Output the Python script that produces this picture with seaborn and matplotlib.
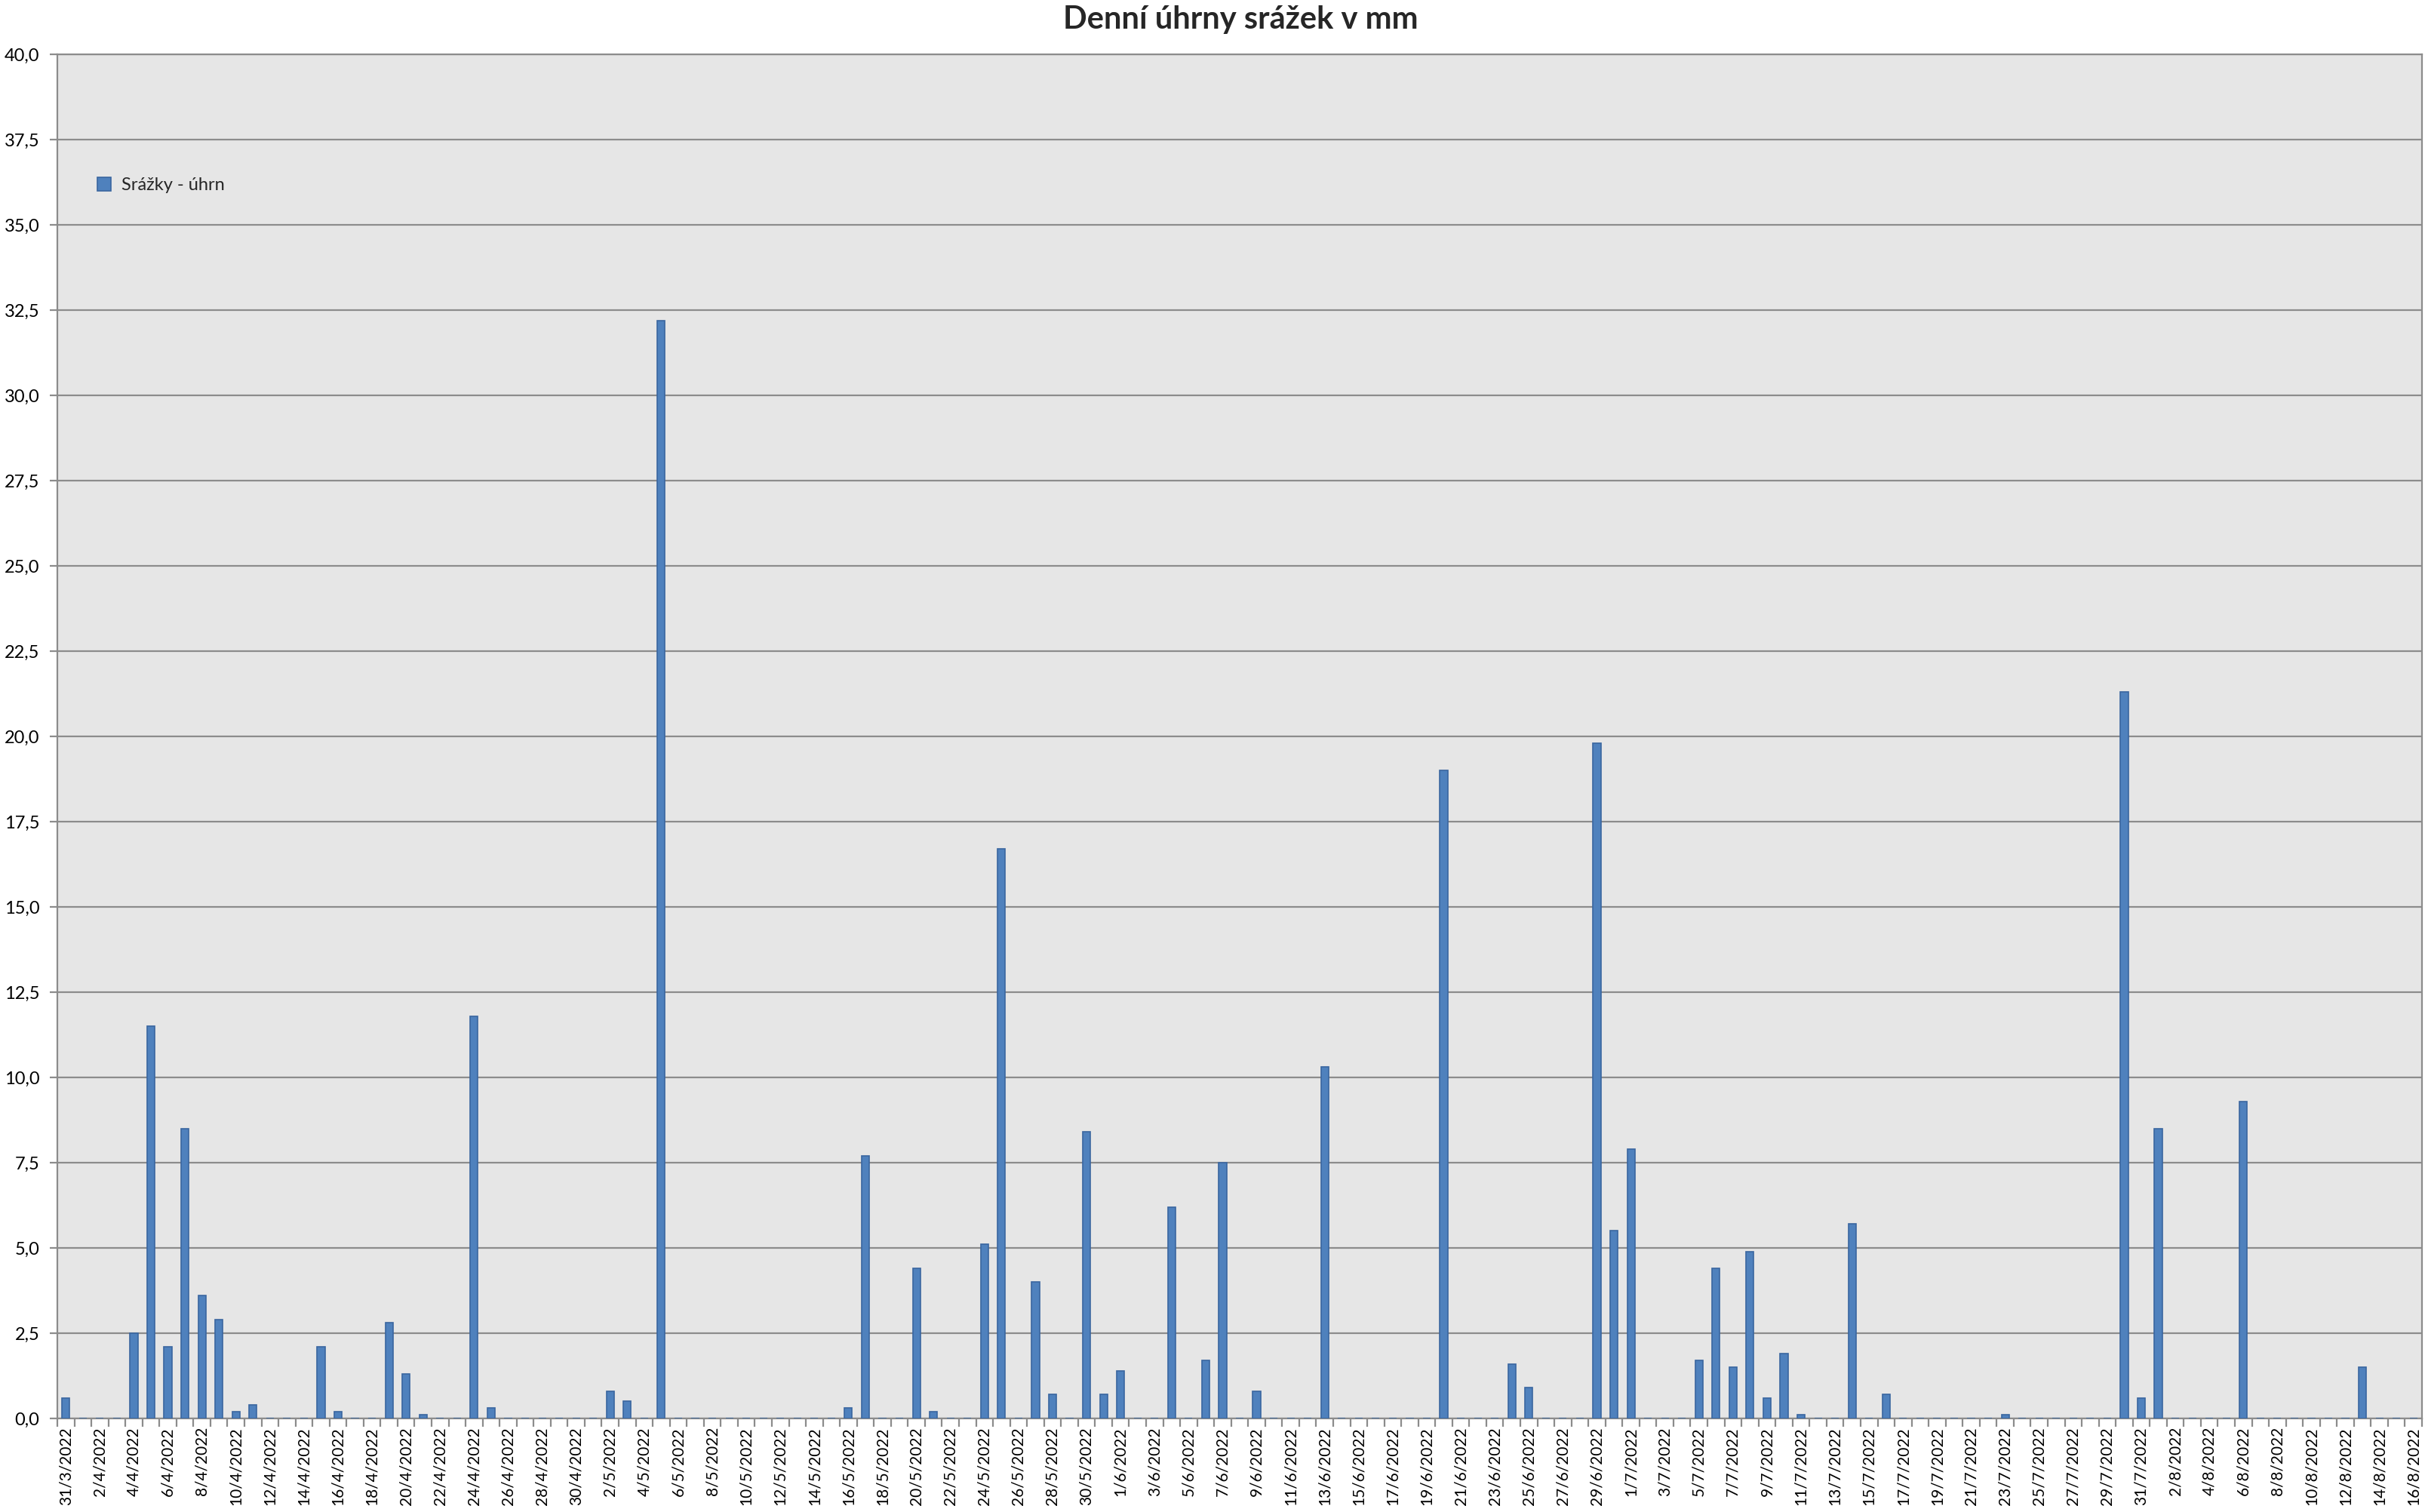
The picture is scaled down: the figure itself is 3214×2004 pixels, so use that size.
import numpy as np
import pandas as pd
import matplotlib
matplotlib.use("Agg")
import matplotlib.pyplot as plt
from matplotlib.patches import Patch
from matplotlib.ticker import FuncFormatter, FixedLocator
import seaborn as sns

# ---- data ----
dates = pd.date_range("2022-03-31", "2022-08-16", freq="D")
date_labels = [f"{d.day}/{d.month}/{d.year}" for d in dates]

march = [0.6]  # 31/3
april = [0, 0, 0, 2.5, 11.5, 2.1, 8.5, 3.6, 2.9, 0.2,
         0.4, 0, 0, 0, 2.1, 0.2, 0, 0, 2.8, 1.3,
         0.1, 0, 0, 11.8, 0.3, 0, 0, 0, 0, 0]
may = [0, 0.8, 0.5, 0, 32.2, 0, 0, 0, 0, 0,
       0, 0, 0, 0, 0, 0.3, 7.7, 0, 0, 4.4,
       0.2, 0, 0, 5.1, 16.7, 0, 4.0, 0.7, 0, 8.4, 0.7]
june = [1.4, 0, 0, 6.2, 0, 1.7, 7.5, 0, 0.8, 0,
        0, 0, 10.3, 0, 0, 0, 0, 0, 0, 19.0,
        0, 0, 0, 1.6, 0.9, 0, 0, 0, 19.8, 5.5]
july = [7.9, 0, 0, 0, 1.7, 4.4, 1.5, 4.9, 0.6, 1.9,
        0.1, 0, 0, 5.7, 0, 0.7, 0, 0, 0, 0,
        0, 0, 0.1, 0, 0, 0, 0, 0, 0, 21.3, 0.6]
august = [8.5, 0, 0, 0, 0, 9.3, 0, 0, 0, 0,
          0, 0, 1.5, 0, 0, 0]
precip = march + april + may + june + july + august

series_name = "Srážky - úhrn"
title = "Denní úhrny srážek v mm"
y_ticks = [0, 2.5, 5, 7.5, 10, 12.5, 15, 17.5, 20, 22.5, 25, 27.5, 30, 32.5, 35, 37.5, 40]

df = pd.DataFrame({"date": date_labels, "value": precip})

# ---- style ----
sns.set_style("white")
plt.rcParams["font.family"] = ["Lato", "DejaVu Sans"]

W, H, DPI = 3214, 2004, 100
fig = plt.figure(figsize=(W / DPI, H / DPI), dpi=DPI)
ax = fig.add_axes([76 / W, 1 - 1880 / H, (3210 - 76) / W, (1880 - 72) / H])

bar_color = "#4F81BD"
edge_color = "#3A66A0"
grid_color = "#8C8C8C"

sns.barplot(data=df, x="date", y="value", order=date_labels, color=bar_color,
            width=0.45, edgecolor=edge_color, linewidth=1.2, saturation=1,
            ax=ax, zorder=3)

ax.set_facecolor("#E6E6E6")
ax.set_xlim(-0.5, len(date_labels) - 0.5)
ax.set_ylim(0, 40)
ax.set_yticks(y_ticks)
ax.yaxis.set_major_formatter(FuncFormatter(lambda v, p: f"{v:.1f}".replace(".", ",")))
ax.yaxis.grid(True, color=grid_color, linewidth=1.6, zorder=0)
ax.xaxis.grid(False)
ax.set_axisbelow(True)
for s in ax.spines.values():
    s.set_color(grid_color)
    s.set_linewidth(1.6)

# x ticks: labels every second day, tick marks at category boundaries
major_pos = list(range(0, len(date_labels), 2))
ax.xaxis.set_major_locator(FixedLocator(major_pos))
ax.set_xticklabels([date_labels[i] for i in major_pos], rotation=90, fontsize=15)
ax.xaxis.set_minor_locator(FixedLocator(np.arange(-0.5, len(date_labels), 1)))
ax.tick_params(axis="x", which="major", length=0, pad=8, colors="black")
ax.tick_params(axis="x", which="minor", length=8, width=1.6, color=grid_color, bottom=True)
ax.tick_params(axis="y", which="major", length=7, width=1.6, color=grid_color,
               labelsize=17, pad=10, left=True)
for lab in ax.get_yticklabels():
    lab.set_color("black")

ax.set_xlabel("")
ax.set_ylabel("")

leg = ax.legend(handles=[Patch(facecolor=bar_color, edgecolor=edge_color, linewidth=1.2,
                               label=series_name)],
                loc="upper left", bbox_to_anchor=(0.014, 0.915), frameon=False,
                fontsize=17, handlelength=0.75, handleheight=0.75, handletextpad=0.6,
                borderaxespad=0)

fig.text(0.5115, 1 - 26 / H, title, ha="center", va="center",
         fontsize=30, fontweight="bold")

fig.savefig("out.png", dpi=DPI, facecolor="white")
